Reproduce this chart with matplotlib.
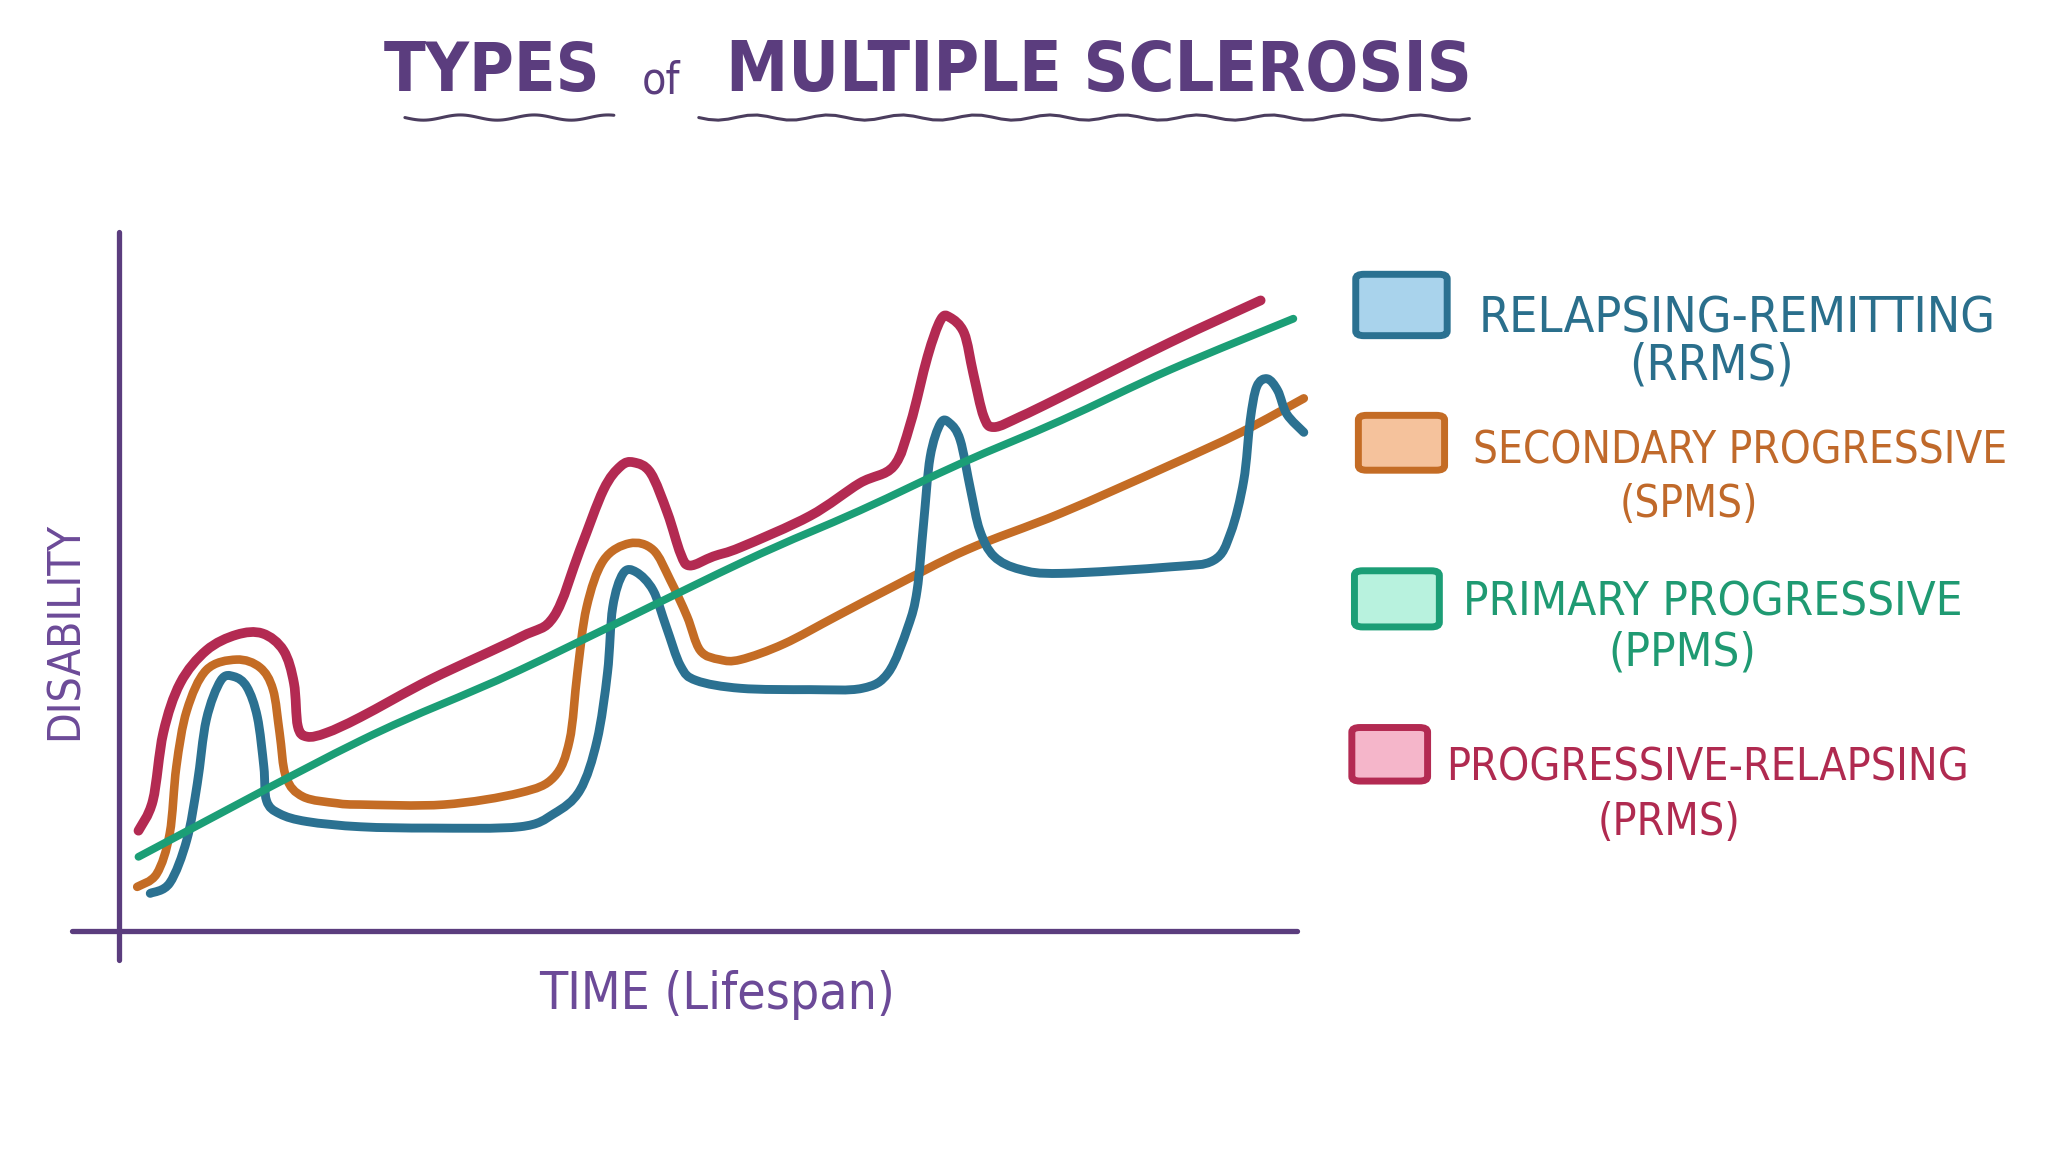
import numpy as np
import matplotlib
matplotlib.use('Agg')
from matplotlib import pyplot as plt
from matplotlib.patches import FancyBboxPatch, PathPatch
from matplotlib.path import Path

# 곡선 데이터 (time, disability)
rr_t = [2.67, 4.33, 5.78, 6.67, 7.44, 8.67, 9.78, 10.89, 11.78, 12.33, 12.56, 13.67, 16.0, 20.56,
        26.56, 34.11, 37.0, 39.22, 40.67, 41.56, 42.0, 42.89, 44.0, 45.44, 46.56, 47.78, 49.11,
        52.89, 58.78, 63.22, 65.44, 67.11, 67.89, 68.44, 69.0, 69.89, 70.67, 71.56, 72.44, 73.22,
        74.44, 76.67, 80.11, 89.44, 93.11, 94.56, 95.67, 96.22, 96.78, 97.67, 98.56, 99.33, 100.78]
rr_d = [5.8, 7.4, 14.0, 22.6, 32.4, 38.4, 39.0, 37.4, 32.8, 25.2, 20.0, 18.0, 16.8, 16.0,
        15.8, 16.0, 18.0, 21.6, 29.2, 39.6, 49.6, 54.8, 55.0, 52.2, 46.6, 40.6, 38.4,
        37.2, 37.0, 37.2, 39.6, 46.6, 52.2, 62.4, 72.6, 77.8, 77.8, 75.2, 67.6, 61.4,
        57.4, 55.4, 54.8, 55.8, 56.8, 61.0, 69.0, 78.2, 83.4, 84.6, 82.8, 79.2, 76.4]

sp_t = [1.56, 3.22, 4.33, 4.89, 5.78, 7.44, 10.0, 12.0, 13.11, 13.67, 14.22, 15.67, 18.56, 20.56,
        27.67, 34.11, 37.0, 38.33, 39.0, 39.78, 41.22, 43.44, 45.44, 46.89, 48.33, 49.44, 51.11,
        52.89, 56.56, 61.0, 65.89, 72.11, 80.11, 89.44, 95.44, 100.78]
sp_d = [6.8, 8.8, 15.0, 25.2, 33.8, 40.0, 41.6, 40.4, 37.0, 30.4, 23.6, 20.6, 19.6, 19.4,
        19.4, 21.2, 23.6, 29.2, 39.6, 49.6, 56.8, 59.4, 58.4, 53.8, 48.2, 43.0, 41.6,
        41.6, 44.0, 48.2, 52.8, 58.4, 64.0, 71.4, 76.4, 81.6]

pp_t = [1.67, 20.56, 34.11, 52.89, 63.0, 71.56, 80.11, 89.44, 99.89]
pp_d = [11.4, 29.2, 40.0, 56.4, 64.4, 71.6, 78.2, 86.0, 93.8]

pr_t = [1.67, 2.89, 3.78, 5.22, 7.44, 10.0, 12.22, 14.0, 14.89, 15.22, 16.0, 17.67, 20.56,
        26.56, 34.11, 37.0, 39.22, 41.22, 42.67, 43.78, 45.22, 46.67, 47.78, 48.56, 50.56,
        52.89, 58.78, 63.0, 65.89, 67.33, 68.78, 69.89, 70.67, 71.89, 72.67, 73.56, 74.44,
        76.67, 80.11, 89.44, 97.11]
pr_d = [15.4, 20.0, 30.4, 38.0, 43.0, 45.4, 45.6, 43.0, 38.0, 31.4, 29.8, 30.4, 32.8,
        38.6, 45.0, 48.2, 58.4, 67.6, 71.2, 71.8, 70.2, 64.0, 57.8, 56.0, 57.4,
        58.8, 63.6, 68.6, 71.2, 77.8, 88.0, 93.6, 94.0, 91.6, 85.4, 78.8, 77.2,
        78.8, 81.8, 90.2, 96.6]

names = ['RELAPSING-REMITTING', 'SECONDARY PROGRESSIVE', 'PRIMARY PROGRESSIVE', 'PROGRESSIVE-RELAPSING']
abbrs = ['(RRMS)', '(SPMS)', '(PPMS)', '(PRMS)']

line_colors = ['#2b7191', '#c46c25', '#1b9e76', '#b32a52']
fill_colors = ['#a9d3ec', '#f5c29c', '#b8f2de', '#f5b6ca']
text_colors = ['#2a6f8c', '#c0692a', '#1f9a72', '#b02a50']
purple = '#5b3d7e'


def smooth_path(xs, ys):
    # 점을 지나는 부드러운 베지어 경로 (Catmull-Rom)
    p = np.column_stack([xs, ys]).astype(float)
    p = np.vstack([p[0], p, p[-1]])
    verts = [p[1]]
    codes = [Path.MOVETO]
    for i in range(1, len(p) - 2):
        c1 = p[i] + (p[i + 1] - p[i - 1]) / 6
        c2 = p[i + 1] - (p[i + 2] - p[i]) / 6
        verts += [c1, c2, p[i + 1]]
        codes += [Path.CURVE4] * 3
    return Path(verts, codes)


fig = plt.figure(figsize=(20.48, 11.52), dpi=100)
fig.patch.set_facecolor('white')

# 차트 영역
ax = fig.add_axes([91 / 1568, 1 - 713 / 882, 902 / 1568, 535 / 882])
ax.set_xlim(0, 100.2)
ax.set_ylim(0, 107)
ax.axis('off')

ax.plot([-4, 100.2], [0, 0], color=purple, lw=3.8, solid_capstyle='round', clip_on=False)
ax.plot([0, 0], [-4.4, 107], color=purple, lw=3.8, solid_capstyle='round', clip_on=False)

series = [(sp_t, sp_d, 1, 6.2), (rr_t, rr_d, 0, 6.4), (pp_t, pp_d, 2, 5.6), (pr_t, pr_d, 3, 7.0)]
for xs, ys, ci, lw in series:
    ax.add_patch(PathPatch(smooth_path(xs, ys), facecolor='none', edgecolor=line_colors[ci],
                           lw=lw, capstyle='round', joinstyle='round', clip_on=False))

hand = dict(family='DejaVu Sans', fontstretch='condensed')

# 제목
fig.text(377 / 1568, 1 - 55 / 882, 'TYPES', color=purple, fontsize=49, weight='bold',
         ha='center', va='center', **hand)
fig.text(506 / 1568, 1 - 62 / 882, 'of', color=purple, fontsize=32,
         ha='center', va='center', **hand)
fig.text(841 / 1568, 1 - 55 / 882, 'MULTIPLE SCLEROSIS', color=purple, fontsize=50, weight='bold',
         ha='center', va='center', **hand)

for x0, x1 in [(310, 470), (535, 1125)]:
    xs = np.linspace(x0, x1, 80)
    ys = 90 + 2.0 * np.sin((xs - x0) / 9.0)
    fig.add_artist(plt.Line2D(xs / 1568, 1 - ys / 882, color='#4b3d5e', lw=2.2,
                              solid_capstyle='round'))

# 축 라벨
fig.text(50 / 1568, 1 - 483 / 882, 'DISABILITY', color='#6c4a98', fontsize=32, rotation=90,
         ha='center', va='center', **hand)
fig.text(413 / 1568, 1 - 762 / 882, 'TIME (Lifespan)', color='#6c4a98', fontsize=37,
         ha='left', va='center', **hand)

# 범례
boxes = [(1038, 210, 1108, 257), (1040, 318, 1106, 360), (1037, 437, 1102, 480), (1035, 557, 1093, 598)]
line1 = [(1132, 244), (1128, 345), (1120, 462), (1107, 588)]
line2 = [(1310, 280), (1293, 386), (1288, 500), (1278, 630)]
sizes = [36, 31.5, 34, 32]
for i in range(4):
    bx0, by0, bx1, by1 = boxes[i]
    fig.add_artist(FancyBboxPatch((bx0 / 1568, 1 - by1 / 882), (bx1 - bx0) / 1568, (by1 - by0) / 882,
                                  boxstyle='round,pad=0,rounding_size=0.004', transform=fig.transFigure,
                                  facecolor=fill_colors[i], edgecolor=line_colors[i], lw=5))
    fig.text(line1[i][0] / 1568, 1 - line1[i][1] / 882, names[i], color=text_colors[i], fontsize=sizes[i],
             ha='left', va='center', **hand)
    fig.text(line2[i][0] / 1568, 1 - line2[i][1] / 882, abbrs[i], color=text_colors[i], fontsize=sizes[i],
             ha='center', va='center', **hand)

fig.savefig('out.png', dpi=100, facecolor='white')
